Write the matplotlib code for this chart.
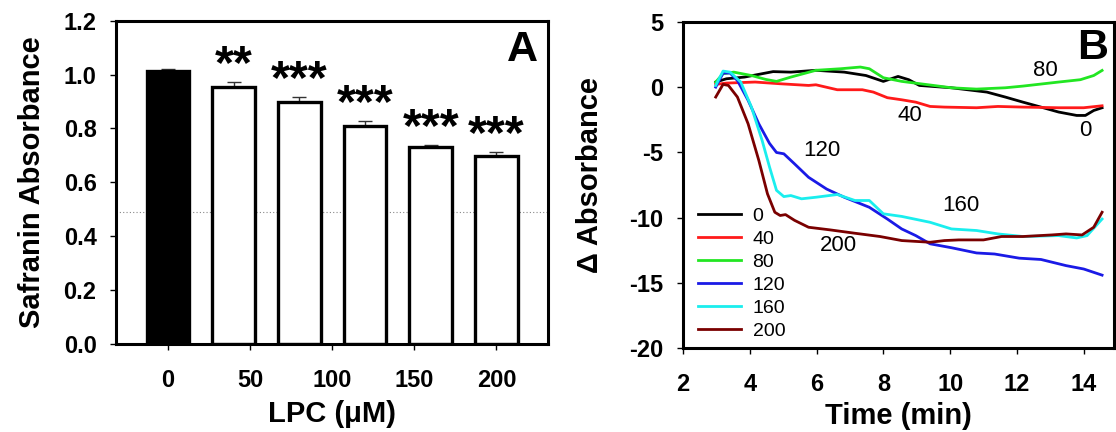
import matplotlib
matplotlib.use('Agg')
import matplotlib.pyplot as plt

plt.rcParams['font.family'] = ['Liberation Sans', 'DejaVu Sans']
plt.rcParams['axes.unicode_minus'] = False

# ---------------- Panel A data ----------------
lpc_conc = [0, 40, 80, 120, 160, 200]
safranin_abs = [1.015, 0.955, 0.900, 0.810, 0.730, 0.698]
safranin_err = [0.004, 0.018, 0.018, 0.018, 0.007, 0.016]
signif = ['', '**', '***', '***', '***', '***']
xticks_a = [0, 50, 100, 150, 200]
yticks_a = [0.0, 0.2, 0.4, 0.6, 0.8, 1.0, 1.2]
ref_line = 0.49

# ---------------- Panel B data ----------------
t_0 = [2.98, 3.3, 3.84, 4.7, 5.23, 5.98, 6.83, 7.48, 8.0, 8.44, 8.76, 9.08, 9.5, 10.04, 11.1, 11.65, 12.18, 12.72, 13.25, 13.79, 14.05, 14.3, 14.55]
v_0 = [0.4, 0.65, 0.78, 1.2, 1.16, 1.3, 1.16, 0.9, 0.45, 0.83, 0.58, 0.14, 0.06, -0.04, -0.37, -0.75, -1.14, -1.52, -1.9, -2.16, -2.16, -1.78, -1.57]
t_40 = [2.98, 3.3, 4.16, 4.9, 5.76, 5.98, 6.62, 7.37, 7.7, 8.12, 8.55, 8.97, 9.4, 9.83, 10.79, 11.43, 12.18, 13.25, 14.0, 14.55]
v_40 = [0.22, 0.32, 0.4, 0.27, 0.14, 0.19, -0.19, -0.19, -0.37, -0.8, -0.96, -1.14, -1.47, -1.52, -1.57, -1.47, -1.52, -1.57, -1.57, -1.42]
t_80 = [2.98, 3.2, 3.52, 4.05, 4.48, 4.8, 5.23, 5.98, 6.72, 7.31, 7.58, 8.0, 8.55, 9.5, 10.04, 10.79, 11.65, 12.18, 13.25, 13.9, 14.3, 14.55]
v_80 = [0.4, 1.04, 1.16, 0.9, 0.6, 0.45, 0.78, 1.3, 1.42, 1.55, 1.42, 0.73, 0.45, 0.14, -0.04, -0.14, -0.04, 0.09, 0.4, 0.58, 0.9, 1.29]
t_120 = [2.98, 3.2, 3.41, 3.63, 3.95, 4.27, 4.59, 4.8, 5.02, 5.34, 5.76, 6.3, 6.83, 7.58, 8.12, 8.55, 8.97, 9.4, 10.04, 10.79, 11.33, 12.07, 12.72, 13.47, 14.0, 14.55]
v_120 = [0.01, 1.09, 1.09, 0.52, -1.0, -2.8, -4.3, -5.0, -5.1, -5.87, -6.9, -7.8, -8.43, -9.2, -10.1, -10.86, -11.37, -12.0, -12.3, -12.7, -12.78, -13.1, -13.2, -13.67, -13.93, -14.4]
t_160 = [2.98, 3.2, 3.41, 3.73, 4.05, 4.37, 4.59, 4.8, 5.02, 5.23, 5.55, 5.98, 6.62, 7.15, 7.58, 8.0, 8.55, 9.4, 10.04, 10.79, 11.43, 12.18, 13.25, 13.79, 14.1, 14.55]
v_160 = [0.14, 1.24, 1.16, 0.4, -1.52, -4.08, -6.1, -7.9, -8.38, -8.3, -8.55, -8.43, -8.22, -8.68, -8.68, -9.7, -9.9, -10.35, -10.86, -10.98, -11.24, -11.44, -11.37, -11.55, -11.37, -10.1]
t_200 = [2.98, 3.2, 3.36, 3.63, 3.95, 4.27, 4.53, 4.75, 4.91, 5.07, 5.34, 5.76, 6.4, 7.15, 7.9, 8.55, 9.4, 9.83, 10.26, 11.0, 11.54, 12.18, 13.04, 13.47, 13.95, 14.3, 14.55]
v_200 = [-0.75, 0.22, 0.14, -0.75, -2.8, -5.6, -8.17, -9.58, -9.83, -9.76, -10.2, -10.73, -10.93, -11.19, -11.44, -11.75, -11.88, -11.75, -11.7, -11.7, -11.44, -11.44, -11.32, -11.24, -11.32, -10.73, -9.58]

series_labels = ['0', '40', '80', '120', '160', '200']
series_colors = ['#000000', '#ff1a1a', '#22e622', '#1a1ae6', '#1aeeee', '#7a0000']
times = [t_0, t_40, t_80, t_120, t_160, t_200]
values = [v_0, v_40, v_80, v_120, v_160, v_200]

# in-plot curve labels (text, x, y)
curve_notes = [('80', 12.84, 1.3), ('40', 8.8, -2.2), ('0', 14.04, -3.3),
               ('120', 6.16, -4.85), ('160', 10.32, -9.1), ('200', 6.64, -12.15)]
xticks_b = [2, 4, 6, 8, 10, 12, 14]
yticks_b = [5, 0, -5, -10, -15, -20]

fig = plt.figure(figsize=(11.16, 4.32), dpi=100)
axA = fig.add_axes([0.104, 0.204, 0.387, 0.748])
axB = fig.add_axes([0.612, 0.194, 0.386, 0.755])

frame_lw = 2.2
tick_fs = 17
label_fs = 21

# ---------- Panel A ----------
axA.axhline(ref_line, color='#888888', lw=0.8, ls=(0, (1, 2)), zorder=0)
colors_a = ['black'] + ['white'] * (len(lpc_conc) - 1)
axA.errorbar(lpc_conc, safranin_abs, yerr=[[0] * len(safranin_err), safranin_err],
             fmt='none', ecolor='#333333', elinewidth=1.0, capsize=5, capthick=1.0, zorder=1)
axA.bar(lpc_conc, safranin_abs, width=26, color=colors_a, edgecolor='black',
        linewidth=2.4, zorder=2)
for x, v, e, s in zip(lpc_conc, safranin_abs, safranin_err, signif):
    if s:
        axA.text(x, v + e + 0.015, s, ha='center', va='baseline', fontsize=35,
                 fontweight='bold')
axA.set_xlim(-31.7, 231.4)
axA.set_ylim(0, 1.2)
axA.set_xticks(xticks_a)
axA.set_yticks(yticks_a)
axA.set_yticklabels([f'{v:.1f}' for v in yticks_a])
axA.set_xlabel('LPC (\u03bcM)', fontsize=label_fs, fontweight='bold')
axA.set_ylabel('Safranin Absorbance', fontsize=label_fs, fontweight='bold')
axA.xaxis.set_label_coords(0.5, -0.175)
axA.yaxis.set_label_coords(-0.162, 0.5)
axA.text(0.977, 0.972, 'A', transform=axA.transAxes, ha='right', va='top',
         fontsize=31, fontweight='bold')

# ---------- Panel B ----------
for t, v, lab, c in zip(times, values, series_labels, series_colors):
    axB.plot(t, v, color=c, lw=2.0, label=lab)
for txt, x, y in curve_notes:
    axB.text(x, y, txt, ha='center', va='center', fontsize=16)
axB.set_xlim(2, 14.9)
axB.set_ylim(-20, 5)
axB.set_xticks(xticks_b)
axB.set_yticks(yticks_b)
axB.set_xlabel('Time (min)', fontsize=label_fs, fontweight='bold')
axB.set_ylabel('\u0394 Absorbance', fontsize=label_fs, fontweight='bold')
axB.xaxis.set_label_coords(0.5, -0.166)
axB.yaxis.set_label_coords(-0.183, 0.53)
axB.text(0.986, 0.982, 'B', transform=axB.transAxes, ha='right', va='top',
         fontsize=31, fontweight='bold')
axB.legend(loc='upper left', bbox_to_anchor=(0.035, 0.433), frameon=False,
           fontsize=14, handlelength=2.2, handletextpad=0.6, labelspacing=0.28,
           borderpad=0, borderaxespad=0)

for ax in (axA, axB):
    for sp in ax.spines.values():
        sp.set_linewidth(frame_lw)
    ax.tick_params(direction='out', length=4, width=1.0, labelsize=tick_fs,
                   top=False, right=False)
    ax.tick_params(axis='x', pad=14)
    ax.tick_params(axis='y', pad=10)
    for lbl in ax.get_xticklabels() + ax.get_yticklabels():
        lbl.set_fontweight('bold')

fig.savefig('out.png', dpi=100)
